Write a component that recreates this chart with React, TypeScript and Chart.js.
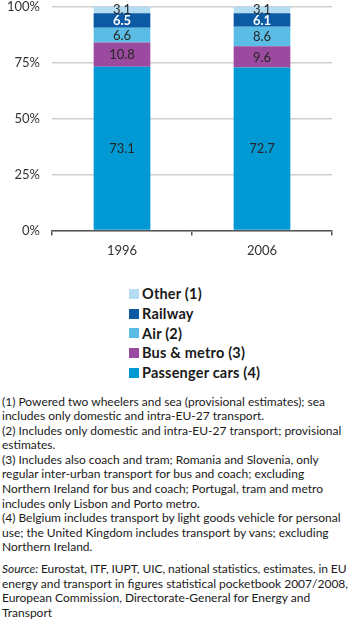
import React, { useEffect, useRef } from "react";
import { Chart, registerables } from "chart.js";
Chart.register(...registerables);

const categories = ["1996", "2006"];
const passengerCars = [73.1, 72.7];
const busMetro = [10.8, 9.6];
const air = [6.6, 8.6];
const railway = [6.5, 6.1];
const other = [3.1, 3.1];
const seriesNames = ["Passenger cars (4)", "Bus & metro (3)", "Air (2)", "Railway", "Other (1)"];
const seriesValues = [passengerCars, busMetro, air, railway, other];
const seriesColors = ["#0099d3", "#9c4a9f", "#5bbde5", "#0b5aa3", "#b4dcf2"];
const labelColors = ["#262626", "#262626", "#262626", "#ffffff", "#262626"];
const yTickStep = 25;
const yMax = 100;

const footnotes = [
  "(1) Powered two wheelers and sea (provisional estimates); sea",
  "includes only domestic and intra-EU-27 transport.",
  "(2) Includes only domestic and intra-EU-27 transport; provisional",
  "estimates.",
  "(3) Includes also coach and tram; Romania and Slovenia, only",
  "regular inter-urban transport for bus and coach; excluding",
  "Northern Ireland for bus and coach; Portugal, tram and metro",
  "includes only Lisbon and Porto metro.",
  "(4) Belgium includes transport by light goods vehicle for personal",
  "use; the United Kingdom includes transport by vans; excluding",
  "Northern Ireland.",
];
const sourceLines = [
  " Eurostat, ITF, IUPT, UIC, national statistics, estimates, in EU",
  "energy and transport in figures statistical pocketbook 2007/2008,",
  "European Commission, Directorate-General for Energy and",
  "Transport",
];

const FONT = "Lato, 'Open Sans', sans-serif";

const labelPlugin = {
  id: "segLabels",
  afterDatasetsDraw(chart: any) {
    const ctx = chart.ctx;
    ctx.save();
    ctx.textAlign = "center";
    ctx.textBaseline = "middle";
    chart.data.datasets.forEach((ds: any, i: number) => {
      const meta = chart.getDatasetMeta(i);
      ctx.font = `${i === 3 ? "bold " : ""}13px ${FONT}`;
      meta.data.forEach((el: any, j: number) => {
        const v = ds.data[j];
        ctx.fillStyle = labelColors[i];
        ctx.fillText(v.toFixed(1), el.x, (el.y + el.base) / 2 + 0.5);
      });
    });
    ctx.restore();
  },
};

export default function App() {
  const ref = useRef<HTMLCanvasElement>(null);
  useEffect(() => {
    const chart = new Chart(ref.current!, {
      type: "bar",
      data: {
        labels: categories,
        datasets: seriesValues.map((vals, i) => ({
          label: seriesNames[i],
          data: vals,
          backgroundColor: seriesColors[i],
          borderWidth: 0,
          barPercentage: 0.81,
          categoryPercentage: 0.5,
        })),
      },
      options: {
        animation: false,
        responsive: false,
        layout: { padding: { top: 0, right: 18, bottom: 6, left: 0 } },
        plugins: { legend: { display: false }, tooltip: { enabled: false } },
        scales: {
          x: {
            stacked: true,
            afterFit: (s: any) => { s.height = 28.6; },
            grid: { drawOnChartArea: false, drawTicks: true, tickLength: 5, color: "#555", lineWidth: 1.5 },
            border: { display: true, color: "#555", width: 1.5 },
            ticks: { color: "#333", font: { family: FONT, size: 13 }, padding: 8 },
          },
          y: {
            stacked: true,
            min: 0,
            max: yMax,
            afterFit: (s: any) => { s.width = 52; s.paddingTop = 6.5; s.paddingBottom = 6.5; },
            grid: { drawTicks: false, color: "#cfcfcf", lineWidth: 1.5 },
            border: { display: false },
            ticks: {
              stepSize: yTickStep,
              padding: 12,
              color: "#333",
              font: { family: FONT, size: 13, lineHeight: 1 },
              callback: (v: any) => v + "%",
            },
          },
        },
      },
      plugins: [labelPlugin],
    });
    return () => chart.destroy();
  }, []);

  const legendOrder = [4, 3, 2, 1, 0];
  return (
    <div style={{ position: "absolute", left: 0, top: 0, width: 350, height: 625, overflow: "hidden", background: "#fff", fontFamily: FONT, color: "#1a1a1a" }}>
      <canvas ref={ref} width={350} height={265} style={{ display: "block", width: 350, height: 265 }} />
      <div style={{ position: "absolute", left: 129, top: 284 }}>
        {legendOrder.map((i) => (
          <div key={i} style={{ display: "flex", alignItems: "center", height: 19.7, fontWeight: 700, fontSize: 14.5, letterSpacing: 0.2 }}>
            <span style={{ display: "inline-block", width: 10, height: 10, background: seriesColors[i], marginRight: 3 }} />
            <span>{seriesNames[i]}</span>
          </div>
        ))}
      </div>
      <div style={{ position: "absolute", left: 2, top: 394.5, fontSize: 12, lineHeight: "14.6px", whiteSpace: "nowrap" }}>
        {footnotes.map((t, i) => (<div key={i}>{t}</div>))}
        <div style={{ height: 7 }} />
        {sourceLines.map((t, i) => (
          <div key={"s" + i} style={i === 0 ? { letterSpacing: -0.08 } : undefined}>{i === 0 ? <><i>Source:</i>{t}</> : t}</div>
        ))}
      </div>
    </div>
  );
}
